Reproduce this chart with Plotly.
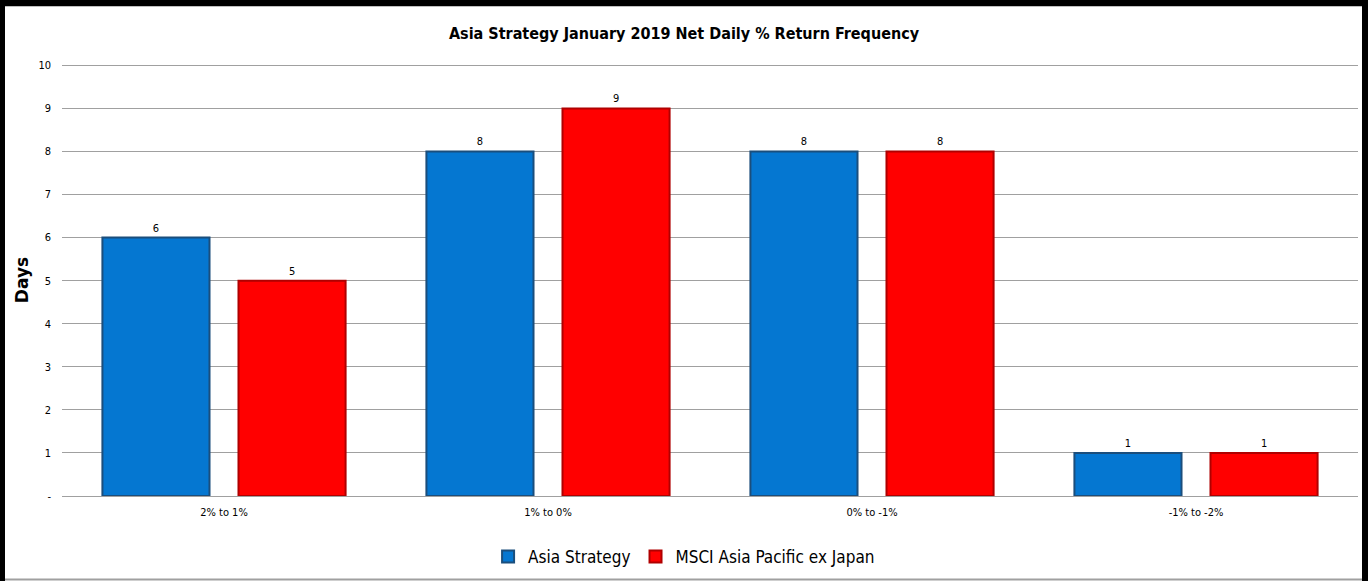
import plotly.graph_objects as go

categories = ["2% to 1%", "1% to 0%", "0% to -1%", "-1% to -2%"]
asia_strategy = [6, 8, 8, 1]
msci_apxj = [5, 9, 8, 1]
y_ticks = [0, 1, 2, 3, 4, 5, 6, 7, 8, 9, 10]
y_tick_labels = ["-", "1", "2", "3", "4", "5", "6", "7", "8", "9", "10"]
y_max = 10.1

W, H = 1368, 581
L, R, B = 62, 10, 85
T = 65 - (y_max - 10) * 43.1
PW, PH = W - L - R, H - T - B

def px(x):
    return (x - L) / PW

def py(y):
    return (H - B - y) / PH

NARROW = "DejaVu Sans Condensed, Liberation Sans Narrow, sans-serif"

fig = go.Figure()
fig.add_trace(go.Bar(
    x=categories, y=asia_strategy, name="Asia Strategy",
    marker=dict(color="#0577D1", line=dict(color="#1B4E7C", width=2)),
    text=asia_strategy, textposition="outside",
    textfont=dict(family=NARROW, size=11, color="#000000"),
    cliponaxis=False,
))
fig.add_trace(go.Bar(
    x=categories, y=msci_apxj, name="MSCI Asia Pacific ex Japan",
    marker=dict(color="#FF0000", line=dict(color="#B00000", width=2)),
    text=msci_apxj, textposition="outside",
    textfont=dict(family=NARROW, size=11, color="#000000"),
    cliponaxis=False,
))

shapes = []
# outer frame
shapes.append(dict(type="rect", xref="paper", yref="paper", x0=px(-2), x1=px(W + 2), y0=py(-2), y1=py(6),
                   fillcolor="black", line=dict(width=0), layer="above"))
shapes.append(dict(type="rect", xref="paper", yref="paper", x0=px(-2), x1=px(5), y0=py(-2), y1=py(H + 2),
                   fillcolor="black", line=dict(width=0), layer="above"))
shapes.append(dict(type="rect", xref="paper", yref="paper", x0=px(1362), x1=px(W + 2), y0=py(-2), y1=py(H + 2),
                   fillcolor="black", line=dict(width=0), layer="above"))
shapes.append(dict(type="line", xref="paper", yref="paper", x0=px(5), x1=px(1362), y0=py(579.5), y1=py(579.5),
                   line=dict(color="#A0A0A0", width=2), layer="above"))

fig.update_layout(
    width=W, height=H,
    margin=dict(l=L, r=R, t=T, b=B, autoexpand=False),
    paper_bgcolor="white", plot_bgcolor="white",
    barmode="group", bargap=0.16, bargroupgap=0.213,
    title=dict(text="<b>Asia Strategy January 2019 Net Daily % Return Frequency</b>",
               x=0.5, xref="container", xanchor="center",
               y=1 - 33 / H, yref="container", yanchor="middle",
               font=dict(family=NARROW, size=16, color="#000000")),
    xaxis=dict(showgrid=False, showline=False, zeroline=False, automargin=False,
               tickfont=dict(family=NARROW, size=11, color="#000000"),
               ticks="", ticklabelstandoff=8),
    yaxis=dict(range=[0, y_max], tickvals=y_ticks, ticktext=y_tick_labels, automargin=False,
               showgrid=True, gridcolor="#A0A0A0", gridwidth=1,
               zeroline=True, zerolinecolor="#A0A0A0", zerolinewidth=1,
               showline=False, ticks="",
               tickfont=dict(family=NARROW, size=11, color="#000000"),
               ticklabelstandoff=10),
    legend=dict(orientation="h", x=0.48, xanchor="center", y=py(557), yanchor="middle",
                font=dict(family=NARROW, size=17, color="#000000"),
                itemwidth=30, traceorder="normal"),
    annotations=[dict(text="<b>Days</b>", x=px(22), y=py(280), xref="paper", yref="paper",
                      xanchor="center", yanchor="middle",
                      textangle=-90, showarrow=False,
                      font=dict(family="DejaVu Sans, Verdana, sans-serif", size=17, color="#000000"))],
    shapes=shapes,
)

post = (
    "document.body.style.margin='0';document.body.style.overflow='hidden';"
    "var f=document.createElement('div');"
    "f.style.cssText='position:fixed;left:0;top:0;width:5px;height:581px;background:#000;z-index:100;pointer-events:none';"
    "document.body.appendChild(f);"
)
fig.write_html("out.html", config={"displayModeBar": False}, post_script=post)
